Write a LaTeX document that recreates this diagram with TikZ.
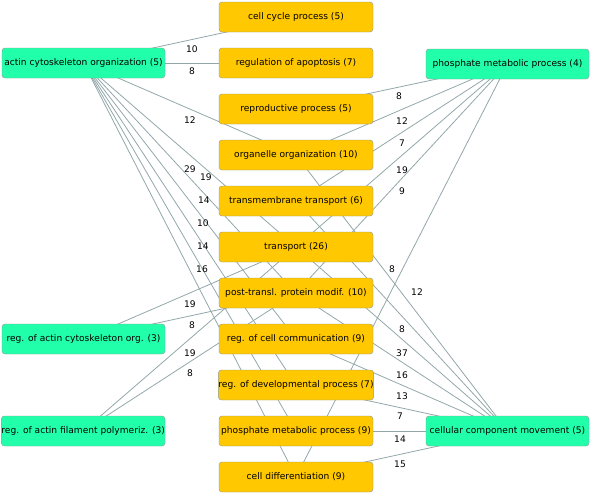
\documentclass[tikz,border=0pt]{standalone}
\usepackage{fontspec}
\setmainfont{DejaVu Sans}
\usepackage{tikz}
\usepackage{xcolor}
\usetikzlibrary{positioning,backgrounds}
\definecolor{termorange}{HTML}{FFC800}
\definecolor{groupgreen}{HTML}{22FFAA}
\definecolor{boxborder}{HTML}{8A9898}
\definecolor{linkgray}{HTML}{93A7AA}
\tikzset{
    term-box/.style = {draw=boxborder, fill=termorange, thin, rectangle, rounded corners=3pt, minimum width=154pt, minimum height=30pt, inner sep=0pt, outer sep=0pt, font=\fontsize{9.1}{11}\selectfont},
    group-box/.style = {term-box, fill=groupgreen, minimum width=163pt},
    link/.style = {draw=linkgray, line width=0.8pt},
    weight/.style = {inner sep=0pt, font=\fontsize{9.1}{11}\selectfont},
}

\begin{document}
\begin{tikzpicture}[x=1pt, y=-1pt]
\useasboundingbox (0,0) rectangle (592,493);
% middle column
\node [term-box] (cellcycle) at (296,17) {cell cycle process (5)};
\node [term-box, below=16pt of cellcycle] (apoptosis) {regulation of apoptosis (7)};
\node [term-box, below=16pt of apoptosis] (reproductive) {reproductive process (5)};
\node [term-box, below=16pt of reproductive] (organelle) {organelle organization (10)};
\node [term-box, below=16pt of organelle] (membrane) {transmembrane transport (6)};
\node [term-box, below=16pt of membrane] (transport) {transport (26)};
\node [term-box, below=16pt of transport] (posttransl) {post-transl. protein modif. (10)};
\node [term-box, below=16pt of posttransl] (cellcomm) {reg. of cell communication (9)};
\node [term-box, below=16pt of cellcomm] (develop) {reg. of developmental process (7)};
\node [term-box, below=16pt of develop] (phosmet) {phosphate metabolic process (9)};
\node [term-box, below=16pt of phosmet] (celldiff) {cell differentiation (9)};
% side groups
\node [group-box, left=54pt of apoptosis] (actinorg) {actin cytoskeleton organization (5)};
\node [group-box, left=54pt of cellcomm] (actinreg) {reg. of actin cytoskeleton org. (3)};
\node [group-box, left=54pt of phosmet] (filament) {reg. of actin filament polymeriz. (3)};
\node [group-box, right=53pt of apoptosis, yshift=-1pt] (phosproc) {phosphate metabolic process (4)};
\node [group-box, right=53pt of phosmet] (movement) {cellular component movement (5)};

\begin{scope}[on background layer]
\draw[link] (actinorg.center) -- (cellcycle.center) node[weight] (w1) at (192,49) {10};
\draw[link] (actinorg.center) -- (apoptosis.center) node[weight] (w2) at (192,71) {8};
\draw[link] (actinorg.center) -- (organelle.center) node[weight] (w3) at (190,120) {12};
\draw[link] (actinorg.center) -- (transport.center) node[weight] (w4) at (190,169) {29};
\draw[link] (actinorg.center) -- (posttransl.center) node[weight] (w5) at (206,177) {19};
\draw[link] (actinorg.center) -- (cellcomm.center) node[weight] (w6) at (204,200) {14};
\draw[link] (actinorg.center) -- (develop.center) node[weight] (w7) at (203,223) {10};
\draw[link] (actinorg.center) -- (phosmet.center) node[weight] (w8) at (203,246) {14};
\draw[link] (actinorg.center) -- (celldiff.center) node[weight] (w9) at (202,269) {16};
\draw[link] (actinreg.center) -- (transport.center) node[weight] (w10) at (190,304) {19};
\draw[link] (actinreg.center) -- (posttransl.center) node[weight] (w11) at (192,325) {8};
\draw[link] (filament.center) -- (transport.center) node[weight] (w12) at (190,353) {19};
\draw[link] (filament.center) -- (posttransl.center) node[weight] (w13) at (190,373) {8};
\draw[link] (phosproc.center) -- (reproductive.center) node[weight] (w14) at (399,96) {8};
\draw[link] (phosproc.center) -- (organelle.center) node[weight] (w15) at (402,121) {12};
\draw[link] (phosproc.center) -- (membrane.center) node[weight] (w16) at (402,143) {7};
\draw[link] (phosproc.center) -- (transport.center) node[weight] (w17) at (402,170) {19};
\draw[link] (phosproc.center) -- (posttransl.center) node[weight] (w18) at (402,191) {9};
\draw[link] (phosproc.center) -- (celldiff.center) node[weight] (w19) at (392,269) {8};
\draw[link] (movement.center) -- (organelle.center) node[weight] (w20) at (417,292) {12};
\draw[link] (movement.center) -- (membrane.center) node[weight] (w21) at (402,329) {8};
\draw[link] (movement.center) -- (transport.center) node[weight] (w22) at (402,353) {37};
\draw[link] (movement.center) -- (posttransl.center) node[weight] (w23) at (402,375) {16};
\draw[link] (movement.center) -- (cellcomm.center) node[weight] (w24) at (402,396) {13};
\draw[link] (movement.center) -- (develop.center) node[weight] (w25) at (400,416) {7};
\draw[link] (movement.center) -- (phosmet.center) node[weight] (w26) at (400,439) {14};
\draw[link] (movement.center) -- (celldiff.center) node[weight] (w27) at (400,464) {15};
\end{scope}
\end{tikzpicture}
\end{document}
